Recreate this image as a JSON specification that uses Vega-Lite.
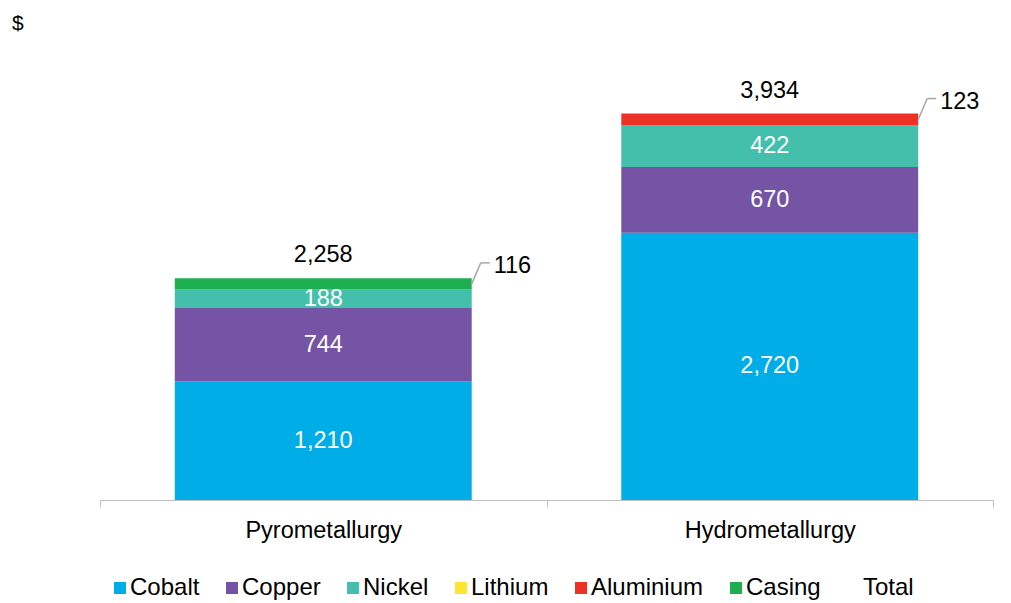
{
  "$schema": "https://vega.github.io/schema/vega-lite/v6.json",
  "width": 893,
  "height": 442,
  "autosize": "none",
  "padding": {"left": 100, "top": 58, "right": 18, "bottom": 103},
  "background": "#ffffff",
  "config": {
    "view": {"stroke": null},
    "font": "Liberation Sans",
    "text": {"font": "Liberation Sans"}
  },
  "title": {
    "text": "$",
    "anchor": "start",
    "frame": "group",
    "orient": "top",
    "dx": -88,
    "offset": 7,
    "baseline": "alphabetic",
    "fontSize": 21,
    "fontWeight": "normal",
    "font": "Liberation Sans",
    "color": "#000000"
  },
  "data": {
    "values": [
      {"method": "Pyrometallurgy", "component": "Cobalt", "value": 1210, "order": 1},
      {"method": "Pyrometallurgy", "component": "Copper", "value": 744, "order": 2},
      {"method": "Pyrometallurgy", "component": "Nickel", "value": 188, "order": 3},
      {"method": "Pyrometallurgy", "component": "Lithium", "value": 0, "order": 4},
      {"method": "Pyrometallurgy", "component": "Aluminium", "value": 0, "order": 5},
      {"method": "Pyrometallurgy", "component": "Casing", "value": 116, "order": 6},
      {"method": "Hydrometallurgy", "component": "Cobalt", "value": 2720, "order": 1},
      {"method": "Hydrometallurgy", "component": "Copper", "value": 670, "order": 2},
      {"method": "Hydrometallurgy", "component": "Nickel", "value": 422, "order": 3},
      {"method": "Hydrometallurgy", "component": "Lithium", "value": 0, "order": 4},
      {"method": "Hydrometallurgy", "component": "Aluminium", "value": 123, "order": 5},
      {"method": "Hydrometallurgy", "component": "Casing", "value": 0, "order": 6}
    ]
  },
  "layer": [
    {
      "mark": {"type": "bar", "width": {"band": 0.665}},
      "encoding": {
        "x": {
          "field": "method",
          "type": "nominal",
          "scale": {"domain": ["Pyrometallurgy", "Hydrometallurgy"], "paddingInner": 0, "paddingOuter": 0},
          "axis": {
            "title": null,
            "labelAngle": 0,
            "labelFontSize": 23.5,
            "labelColor": "#000000",
            "labelFont": "Liberation Sans",
            "labelPadding": 11,
            "tickBand": "extent",
            "tickSize": 7,
            "tickColor": "#bfbfbf",
            "domainColor": "#bfbfbf",
            "grid": false
          }
        },
        "y": {
          "field": "value",
          "type": "quantitative",
          "stack": "zero",
          "scale": {"domain": [0, 4500], "nice": false},
          "axis": null
        },
        "color": {
          "field": "component",
          "type": "nominal",
          "scale": {
            "domain": ["Cobalt", "Copper", "Nickel", "Lithium", "Aluminium", "Casing", "Total"],
            "range": ["#00ADE6", "#7654A5", "#43BFAC", "#FFE52E", "#EE3125", "#1DAF4F", "#ffffff"]
          },
          "legend": {
            "title": null,
            "orient": "none",
            "direction": "horizontal",
            "legendX": 8,
            "legendY": 518,
            "symbolType": "square",
            "symbolSize": 144,
            "symbolStrokeWidth": 0,
            "labelFontSize": 24,
            "labelFont": "Liberation Sans",
            "labelColor": "#000000",
            "labelOffset": -2,
            "columnPadding": 20
          }
        },
        "order": {"field": "order", "type": "quantitative"}
      }
    },
    {
      "transform": [
        {"stack": "value", "groupby": ["method"], "sort": [{"field": "order"}], "as": ["y0", "y1"]},
        {"calculate": "(datum.y0 + datum.y1) / 2", "as": "mid"},
        {"filter": "datum.order <= 3"}
      ],
      "mark": {"type": "text", "baseline": "middle", "align": "center", "fontSize": 23.5, "color": "#ffffff", "font": "Liberation Sans"},
      "encoding": {
        "x": {"field": "method", "type": "nominal"},
        "y": {"field": "mid", "type": "quantitative"},
        "text": {"field": "value", "type": "quantitative", "format": ","}
      }
    },
    {
      "transform": [
        {"stack": "value", "groupby": ["method"], "sort": [{"field": "order"}], "as": ["y0", "y1"]},
        {"calculate": "(datum.y0 + datum.y1) / 2", "as": "mid"},
        {"filter": "datum.order >= 4 && datum.value > 0"}
      ],
      "mark": {"type": "rule", "x2Offset": 9, "y2Offset": -21, "color": "#a6a6a6", "strokeWidth": 1.5},
      "encoding": {
        "x": {"field": "method", "type": "nominal", "bandPosition": 0.8325},
        "x2": {"field": "method", "bandPosition": 0.8325},
        "y": {"field": "mid", "type": "quantitative"},
        "y2": {"field": "mid"}
      }
    },
    {
      "transform": [
        {"stack": "value", "groupby": ["method"], "sort": [{"field": "order"}], "as": ["y0", "y1"]},
        {"calculate": "(datum.y0 + datum.y1) / 2", "as": "mid"},
        {"filter": "datum.order >= 4 && datum.value > 0"}
      ],
      "mark": {"type": "rule", "xOffset": 9, "x2Offset": 18, "yOffset": -21, "color": "#a6a6a6", "strokeWidth": 1.5},
      "encoding": {
        "x": {"field": "method", "type": "nominal", "bandPosition": 0.8325},
        "x2": {"field": "method", "bandPosition": 0.8325},
        "y": {"field": "mid", "type": "quantitative"}
      }
    },
    {
      "transform": [
        {"stack": "value", "groupby": ["method"], "sort": [{"field": "order"}], "as": ["y0", "y1"]},
        {"calculate": "(datum.y0 + datum.y1) / 2", "as": "mid"},
        {"filter": "datum.order >= 4 && datum.value > 0"}
      ],
      "mark": {"type": "text", "align": "left", "baseline": "middle", "xOffset": 22, "yOffset": -18, "fontSize": 23.5, "color": "#000000", "font": "Liberation Sans"},
      "encoding": {
        "x": {"field": "method", "type": "nominal", "bandPosition": 0.8325},
        "y": {"field": "mid", "type": "quantitative"},
        "text": {"field": "value", "type": "quantitative", "format": ","}
      }
    },
    {
      "data": {
        "values": [
          {"method": "Pyrometallurgy", "total": 2258},
          {"method": "Hydrometallurgy", "total": 3934}
        ]
      },
      "mark": {"type": "text", "align": "center", "baseline": "alphabetic", "dy": -16, "fontSize": 23.5, "color": "#000000", "font": "Liberation Sans"},
      "encoding": {
        "x": {"field": "method", "type": "nominal"},
        "y": {"field": "total", "type": "quantitative"},
        "text": {"field": "total", "type": "quantitative", "format": ","}
      }
    }
  ]
}
